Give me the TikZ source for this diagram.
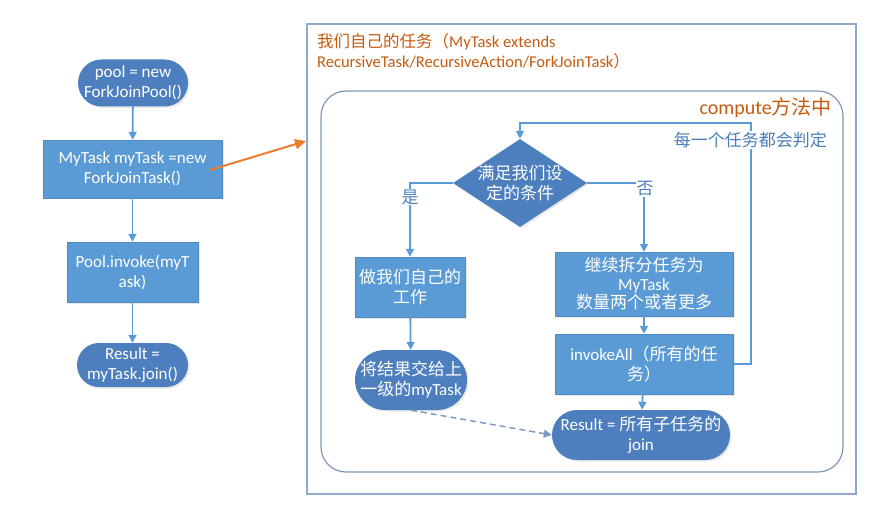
\documentclass[tikz,border=0pt]{standalone}
\usepackage{fontspec}
\setmainfont{Carlito}
\newfontfamily\cjk{Noto Sans CJK SC}
\newcommand\zh[1]{{\cjk #1}}
\usetikzlibrary{shapes.geometric,arrows.meta,shadows}
\definecolor{boxblue}{HTML}{5B9BD5}
\definecolor{darkblue}{HTML}{4D7FBE}
\definecolor{lineblue}{HTML}{5B9BD5}
\definecolor{arrorange}{HTML}{ED7D31}
\definecolor{txtorange}{HTML}{C55A11}
\definecolor{framecol}{HTML}{8EA9CB}
\definecolor{lbltxt}{HTML}{4A7EBB}
\definecolor{dashcol}{HTML}{7C9CC4}
\tikzset{
  shad/.style={drop shadow={opacity=0.18, shadow xshift=1.5pt, shadow yshift=-1.5pt}},
  txt/.style={font=\fontsize{17}{20}\selectfont, text=white, align=center, inner sep=0pt},
  boxnode/.style={txt, rectangle, fill=boxblue, draw=boxblue!90!black, line width=0.4pt, shad},
  stadium/.style={txt, rectangle, rounded corners=#1, fill=darkblue, shad},
  arr/.style={draw=lineblue, line width=1.8pt, -{Triangle[length=8pt,width=8pt]}},
  lbl/.style={font=\fontsize{17}{20}\selectfont, text=lbltxt, fill=white, inner sep=1pt},
}
\begin{document}
\begin{tikzpicture}[x=1pt,y=-1pt]
\useasboundingbox (0,0) rectangle (883,505);
% left column
\node[stadium=23.5pt, minimum width=110pt, minimum height=47pt] (p1) at (133,83) {pool = new\\ForkJoinPool()};
\node[boxnode, minimum width=179pt, minimum height=58pt] (p2) at (132.5,169) {MyTask myTask =new\\ForkJoinTask()};
\node[boxnode, minimum width=131pt, minimum height=60pt] (p3) at (132.5,272) {Pool.invoke(myT\\ask)};
\node[stadium=22pt, minimum width=111pt, minimum height=44pt] (p4) at (132.5,365) {Result =\\myTask.join()};
\draw[arr] (p1) -- (p2);
\draw[arr] (p2) -- (p3);
\draw[arr] (p3) -- (p4);
% frames
\node[draw=framecol, line width=1.2pt, minimum width=549pt, minimum height=470pt, inner sep=0pt] (frame) at (581.5,259) {};
\node[draw=framecol!90!black, line width=1.2pt, rounded corners=25pt, minimum width=522pt, minimum height=381pt, inner sep=0pt] (inner) at (582,281.5) {};
\node[anchor=north west, font=\fontsize{16.5}{20}\selectfont, text=txtorange, align=left, inner sep=0pt] (title) at (317,33)
  {\zh{我们自己的任务（}MyTask extends\\RecursiveTask/RecursiveAction/ForkJoinTask\zh{）}};
\node[anchor=base east, font=\fontsize{20}{24}\selectfont, text=txtorange, inner sep=0pt] (comp) at (832,115) {compute\zh{方法中}};
% orange arrow
\coordinate (oa) at (210,170);
\coordinate (ob) at (306,141);
\draw[draw=arrorange, line width=2pt, -{Triangle[length=11pt,width=10pt]}] (oa) -- (ob);
% right flow
\node[diamond, fill=darkblue, minimum width=134pt, minimum height=88pt, inner sep=0pt, shad] (d) at (520,183) {};
\node[txt] (dt) at (d) {\zh{满足我们设}\\\zh{定的条件}};
\node[boxnode, minimum width=110pt, minimum height=60pt] (b1) at (410,287) {\zh{做我们自己的}\\\zh{工作}};
\node[stadium=30pt, minimum width=112pt, minimum height=60pt] (e1) at (411,380) {\zh{将结果交给上}\\\zh{一级的}myTask};
\node[boxnode, minimum width=178pt, minimum height=64pt, font=\fontsize{17}{18.5}\selectfont] (b2) at (644,284) {\zh{继续拆分任务为}\\MyTask\\\zh{数量两个或者更多}};
\node[boxnode, minimum width=178pt, minimum height=60pt] (b3) at (644,364) {invokeAll\zh{（所有的任}\\\zh{务）}};
\node[stadium=25pt, minimum width=178pt, minimum height=50pt] (r1) at (641,435) {Result = \zh{所有子任务的}\\join};
\draw[arr] (d.west) -| (b1.north);
\draw[arr] (d.east) -| (b2.north);
\node[lbl] (yes) at (410,197) {\zh{是}};
\node[lbl] (no) at (645,189) {\zh{否}};
\draw[arr] (b1) -- (e1);
\draw[arr] (b2) -- (b3);
\draw[arr] (b3) -- (r1);
\coordinate (lc) at (751,123);
\draw[arr] (b3.east) -| (lc) -| (d.north);
\node[lbl, anchor=east] (loopl) at (828,140) {\zh{每一个任务都会判定}};
\draw[arr, line width=1.5pt, dash pattern=on 6pt off 4pt, draw=dashcol] (e1.south) -- (r1.west);
\end{tikzpicture}
\end{document}
